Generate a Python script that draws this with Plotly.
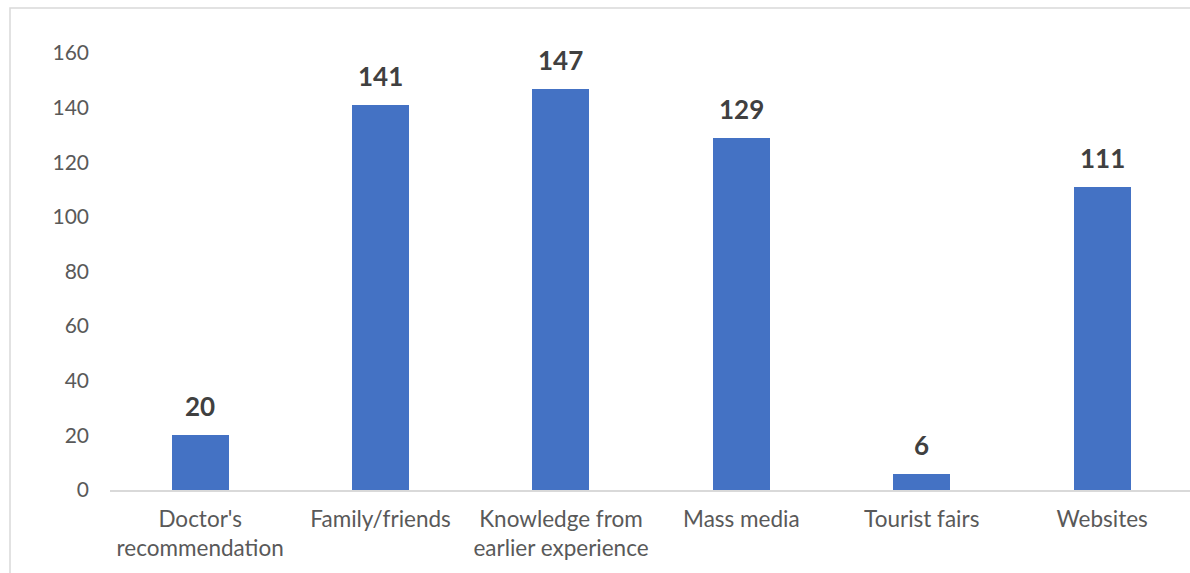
import plotly.graph_objects as go

categories = ["Doctor's<br>recommendation", "Family/friends", "Knowledge from<br>earlier experience",
              "Mass media", "Tourist fairs", "Websites"]
values = [20, 141, 147, 129, 6, 111]
y_ticks = [0, 20, 40, 60, 80, 100, 120, 140, 160]

W, H = 1190, 573
L, R, T, B = 110, 0, 53, 83
pw = W - L - R
ph = H - T - B

fig = go.Figure()
fig.add_trace(go.Bar(
    x=list(range(len(categories))), y=values, width=0.316,
    marker=dict(color="#4472C4", line=dict(width=0)),
    hoverinfo="skip"
))

for i, v in enumerate(values):
    fig.add_annotation(x=i, y=v, text=f"<b>{v}</b>", showarrow=False,
                       yanchor="bottom", yshift=11,
                       font=dict(family="Lato, Open Sans, sans-serif", size=26, color="#404040"))

fig.update_layout(
    width=W, height=H,
    margin=dict(l=L, r=R, t=T, b=B, pad=0),
    paper_bgcolor="white", plot_bgcolor="white",
    showlegend=False,
    bargap=0,
    font=dict(family="Lato, Open Sans, sans-serif", size=21, color="#595959"),
    xaxis=dict(
        tickmode="array", tickvals=list(range(len(categories))), ticktext=categories,
        range=[-0.5, 5.487], showgrid=False, zeroline=False,
        showline=True, linecolor="#D9D9D9", linewidth=1.5,
        ticks="", ticklabelstandoff=8,
        tickfont=dict(size=22.5, color="#595959"),
    ),
    yaxis=dict(
        range=[0, 160], tickvals=y_ticks, showgrid=False, zeroline=False,
        showline=False, ticks="", ticklabelstandoff=20,
        tickfont=dict(size=21, color="#595959"),
    ),
    shapes=[dict(type="rect", xref="paper", yref="paper",
                 x0=(10 - L) / pw, x1=1.05, y0=-0.3, y1=1 + (T - 8) / ph,
                 line=dict(color="#D9D9D9", width=1.5), fillcolor="rgba(0,0,0,0)", layer="below")],
)

fig.write_html("out.html")
